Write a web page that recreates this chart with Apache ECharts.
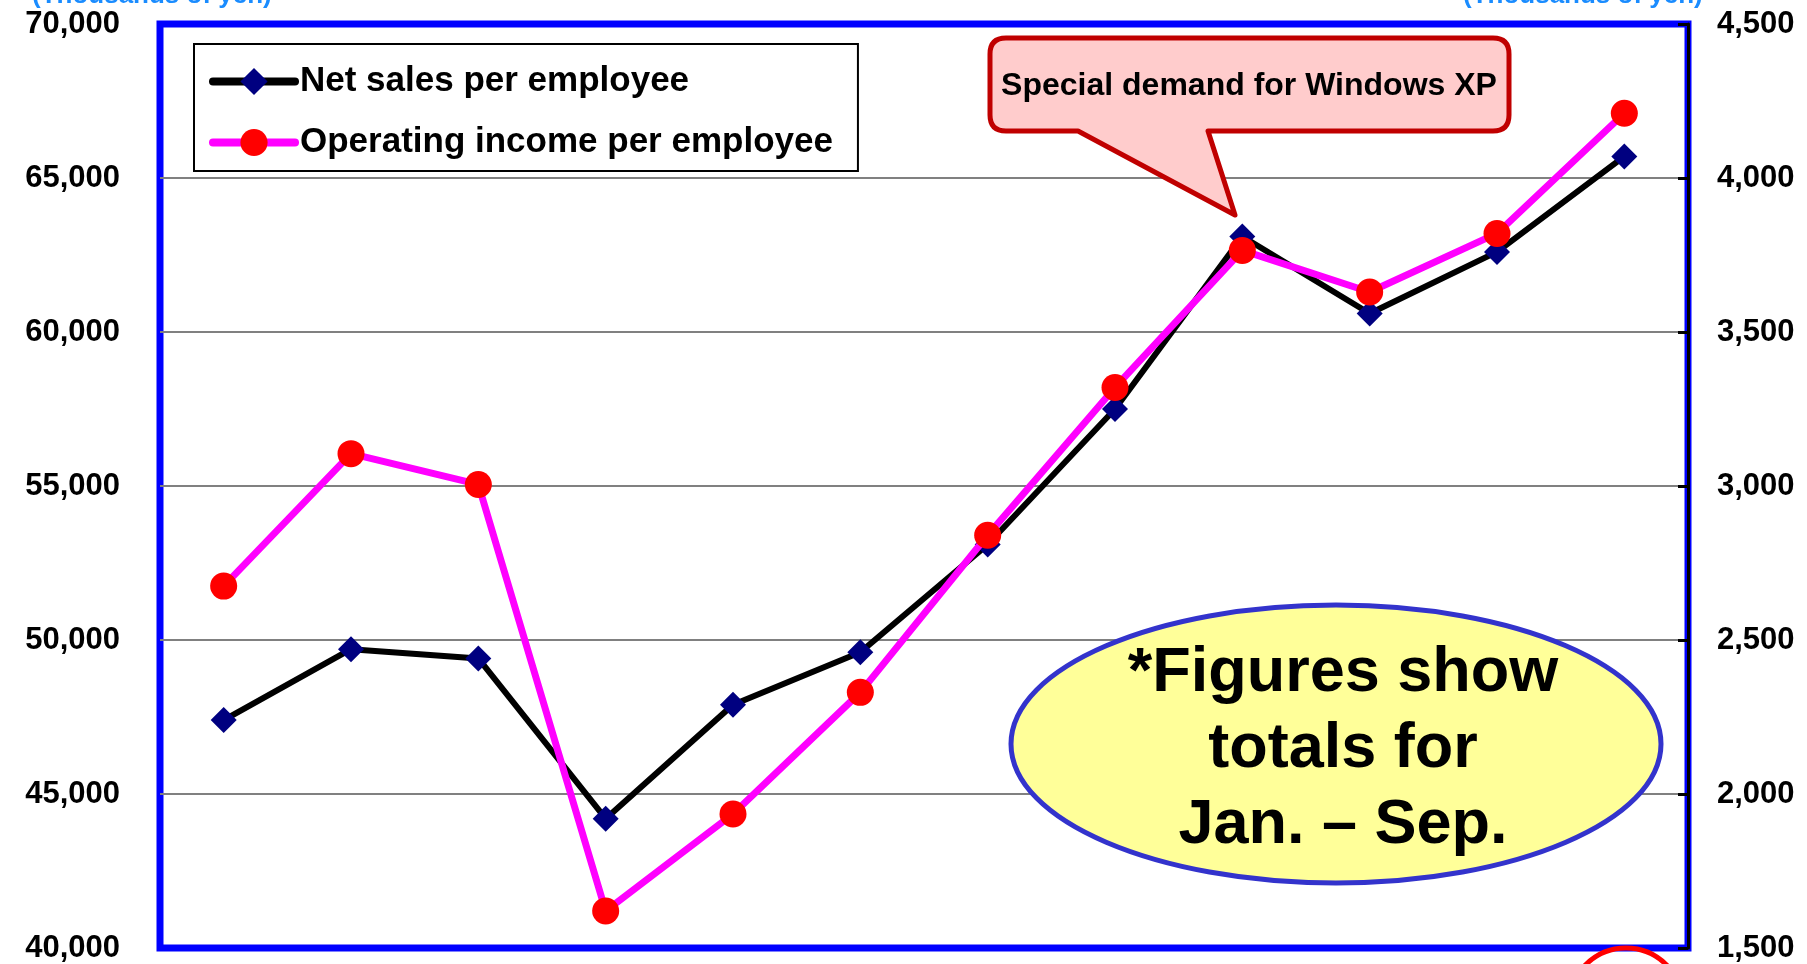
<!DOCTYPE html>
<html>
<head>
<meta charset="utf-8">
<title>Net sales / Operating income per employee</title>
<script src="https://cdn.jsdelivr.net/npm/echarts@6/dist/echarts.min.js"></script>
<style>
  html, body { margin: 0; padding: 0; background: #fff; }
  #chartLine { width: 1807px; height: 964px; }
</style>
</head>
<body>
<div id="chartLine"></div>
<script>
// categories (labels are cropped off in the picture, kept hidden)
const years = ["1993", "1994", "1995", "1996", "1997", "1998", "1999", "2000", "2001", "2002", "2003", "2004"];
// thousands of yen
const netSales = [47400, 49700, 49400, 44200, 47900, 49600, 53100, 57500, 63100, 60600, 62600, 65700];
const opIncome = [2675, 3105, 3005, 1620, 1935, 2330, 2840, 3320, 3765, 3630, 3820, 4210];
const leftTicks = [40000, 45000, 50000, 55000, 60000, 65000, 70000];
const rightTicks = [1500, 2000, 2500, 3000, 3500, 4000, 4500];
const seriesNames = ["Net sales per employee", "Operating income per employee"];
const unitText = "(Thousands of yen)";
const calloutText = "Special demand for Windows XP";
const noteText = "*Figures show\ntotals for\nJan. \u2013 Sep.";

const FONT = "Liberation Sans, Arial, sans-serif";
const fmt = v => v.toLocaleString("en-US");

// speech bubble: rounded box with a pointer hanging from its bottom edge
echarts.graphic.registerShape("callout", echarts.graphic.extendShape({
  shape: { x: 0, y: 0, width: 0, height: 0, r: 0, b1: 0, b2: 0, tx: 0, ty: 0 },
  buildPath(ctx, s) {
    const x0 = s.x, y0 = s.y, x1 = s.x + s.width, y1 = s.y + s.height, r = s.r;
    ctx.moveTo(x0 + r, y0);
    ctx.lineTo(x1 - r, y0);
    ctx.quadraticCurveTo(x1, y0, x1, y0 + r);
    ctx.lineTo(x1, y1 - r);
    ctx.quadraticCurveTo(x1, y1, x1 - r, y1);
    ctx.lineTo(s.b2, y1);
    ctx.lineTo(s.tx, s.ty);
    ctx.lineTo(s.b1, y1);
    ctx.lineTo(x0 + r, y1);
    ctx.quadraticCurveTo(x0, y1, x0, y1 - r);
    ctx.lineTo(x0, y0 + r);
    ctx.quadraticCurveTo(x0, y0, x0 + r, y0);
    ctx.closePath();
  }
}));

const chartLine = echarts.init(document.getElementById("chartLine"));

const options = {
  animation: false,
  backgroundColor: "#fff",
  grid: {
    left: 160,
    right: 119,
    top: 24,
    bottom: 16,
    show: true,
    borderColor: "#0000ff",
    borderWidth: 7,
    backgroundColor: "#fff"
  },
  legend: {
    orient: "vertical",
    left: 194,
    top: 44,
    data: seriesNames,
    backgroundColor: "#fff",
    borderColor: "#000",
    borderWidth: 2,
    padding: [20, 25, 11, 15],
    itemGap: 26,
    itemWidth: 82,
    itemHeight: 34,
    itemTextGap: 6,
    lineStyle: { width: 8, cap: "round" },
    textStyle: { fontFamily: FONT, fontWeight: "bold", fontSize: 35, color: "#000", lineHeight: 34 }
  },
  xAxis: {
    type: "category",
    data: years,
    boundaryGap: true,
    axisLine: { show: false },
    axisTick: { show: false },
    axisLabel: { show: false },
    splitLine: { show: false }
  },
  yAxis: [
    {
      type: "value",
      min: leftTicks[0],
      max: leftTicks[leftTicks.length - 1],
      interval: leftTicks[1] - leftTicks[0],
      axisLine: { show: false },
      axisTick: { show: false },
      axisLabel: {
        margin: 40,
        fontFamily: FONT, fontWeight: "bold", fontSize: 31, color: "#000",
        formatter: v => fmt(v)
      },
      splitLine: {
        show: true,
        lineStyle: {
          color: ["#0000ff", "#808080", "#808080", "#808080", "#808080", "#808080", "#0000ff"],
          width: 2
        }
      }
    },
    {
      type: "value",
      position: "right",
      min: rightTicks[0],
      max: rightTicks[rightTicks.length - 1],
      interval: rightTicks[1] - rightTicks[0],
      axisLine: { show: true, lineStyle: { color: "#000", width: 3 } },
      axisTick: { show: true, inside: true, length: 10, lineStyle: { color: "#000", width: 3 } },
      axisLabel: {
        margin: 29,
        fontFamily: FONT, fontWeight: "bold", fontSize: 31, color: "#000",
        formatter: v => fmt(v)
      },
      splitLine: { show: false }
    }
  ],
  series: [
    {
      name: seriesNames[0],
      type: "line",
      yAxisIndex: 0,
      data: netSales,
      symbol: "diamond",
      symbolSize: 26,
      lineStyle: { color: "#000", width: 6 },
      itemStyle: { color: "#000080" },
      z: 3
    },
    {
      name: seriesNames[1],
      type: "line",
      yAxisIndex: 1,
      data: opIncome,
      symbol: "circle",
      symbolSize: 27,
      lineStyle: { color: "#ff00ff", width: 7 },
      itemStyle: { color: "#ff0000" },
      z: 4
    }
  ],
  graphic: [
    // axis unit captions, cropped at the top edge
    {
      type: "text", x: 32, y: 9, z: 10,
      style: { text: unitText, fill: "#1a8cff", font: "bold 26px " + FONT, verticalAlign: "bottom" }
    },
    {
      type: "text", x: 1463, y: 9, z: 10,
      style: { text: unitText, fill: "#1a8cff", font: "bold 26px " + FONT, verticalAlign: "bottom" }
    },
    // callout
    {
      type: "callout", z: 20,
      shape: { x: 990, y: 38, width: 519, height: 93, r: 16, b1: 1078, b2: 1208, tx: 1235, ty: 215 },
      style: { fill: "#ffcccc", stroke: "#c00000", lineWidth: 5, lineJoin: "round" }
    },
    {
      type: "text", x: 1249, y: 86, z: 21,
      style: {
        text: calloutText, fill: "#000", font: "bold 32px " + FONT,
        align: "center", verticalAlign: "middle"
      }
    },
    // note ellipse
    {
      type: "ellipse", z: 20,
      shape: { cx: 1336, cy: 744, rx: 325, ry: 139 },
      style: { fill: "#ffff99", stroke: "#3333cc", lineWidth: 5 }
    },
    {
      type: "text", x: 1343, y: 750, z: 21,
      style: {
        text: noteText, fill: "#000", font: "bold 63px " + FONT,
        align: "center", verticalAlign: "middle", lineHeight: 76
      }
    },
    // red circle around the last (cropped) category label
    {
      type: "circle", z: 20,
      shape: { cx: 1626, cy: 1005, r: 57 },
      style: { fill: "none", stroke: "#ff0000", lineWidth: 5 }
    }
  ]
};

chartLine.setOption(options, true);
</script>
</body>
</html>
